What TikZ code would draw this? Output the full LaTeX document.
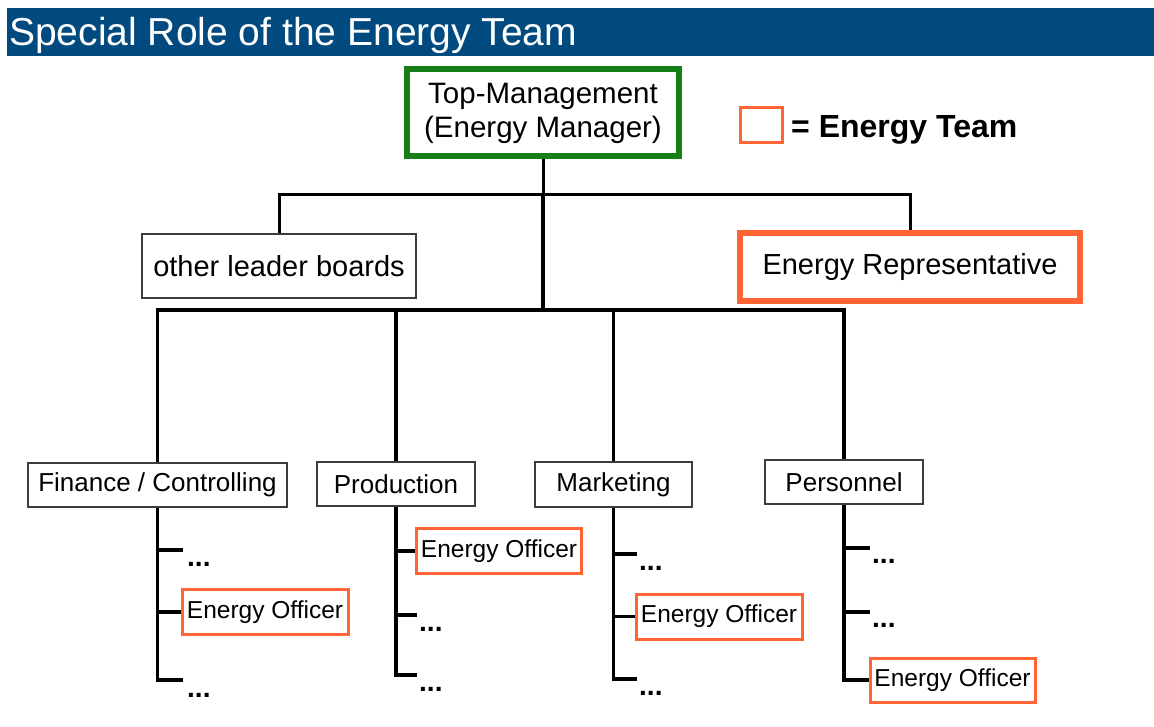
\documentclass[tikz,border=0pt]{standalone}
\usepackage{fontspec}
\setmainfont{Liberation Sans}
\definecolor{hdr}{RGB}{0,74,127}
\definecolor{tmgreen}{RGB}{22,128,22}
\definecolor{eorange}{RGB}{255,100,50}
\definecolor{boxgray}{RGB}{60,60,60}
\tikzset{
  conn/.style={line width=3.5pt, black},
  tconn/.style={line width=3pt, black},
  plainbox/.style={draw=boxgray, line width=1.5pt, inner sep=0pt, fill=white},
  teambox/.style={draw=eorange, line width=3pt, inner sep=0pt, fill=white},
  bigteam/.style={draw=eorange, line width=6pt, inner sep=0pt, fill=white},
  eobox/.style={teambox, font=\fontsize{24.5}{24.5}\selectfont},
  deptbox/.style={plainbox, font=\fontsize{26}{26}\selectfont},
  dots/.style={font=\fontsize{28}{28}\selectfont\bfseries, inner sep=0pt, anchor=base west},
}
\begin{document}
\begin{tikzpicture}[x=1pt,y=-1pt]
\useasboundingbox (0,0) rectangle (1154,727);
% header
\fill[hdr] (7,8) rectangle (1154,56);
\node[anchor=base west, text=white, inner sep=0pt, font=\fontsize{39}{39}\selectfont] (title) at (9,46) {Special Role of the Energy Team};

% junctions
\coordinate (j1) at (543,195);
\coordinate (j2) at (543,310);

% connectors (drawn first)
\draw[tconn] (543,155) -- (j1);
\draw[conn] (j1) -- (j2);

% top management
\node[draw=tmgreen, line width=6pt, fill=white, minimum width=272pt, minimum height=87pt, inner sep=0pt, align=center, font=\fontsize{29.5}{34}\selectfont] (tm) at (543,113) {Top-Management\\(Energy Manager)};

% legend
\node[teambox, minimum width=42pt, minimum height=35pt] (leg) at (761,125.5) {};
\node[anchor=base west, inner sep=0pt, font=\fontsize{32}{32}\selectfont\bfseries] (legt) at (791,138) {= Energy Team};

% second level
\node[plainbox, minimum width=274pt, minimum height=64pt, font=\fontsize{29}{29}\selectfont] (olb) at (279,266) {other leader boards};
\node[bigteam, minimum width=340pt, minimum height=68pt, font=\fontsize{29}{29}\selectfont] (er) at (910,267) {Energy Representative};
\draw[tconn] (olb.north) |- (j1) -| (er.north);

% departments
\node[deptbox, minimum width=259pt, minimum height=44pt] (fin) at (157.5,485) {Finance / Controlling};
\node[deptbox, minimum width=158pt, minimum height=44pt] (prod) at (396,484) {Production};
\node[deptbox, minimum width=157pt, minimum height=45pt] (mkt) at (613.5,484.5) {Marketing};
\node[deptbox, minimum width=158pt, minimum height=44pt] (per) at (844,482) {Personnel};

\draw[conn] (fin.north) |- (j2) -| (per.north);
\draw[conn] (prod.north) -- (prod.north |- j2);
\draw[conn] (mkt.north) -- (mkt.north |- j2);

% Finance subtree
\node[eobox, minimum width=166pt, minimum height=45pt] (eof) at (265,612) {Energy Officer};
\coordinate (f1) at (183,550);
\coordinate (f3) at (183,680);
\draw[conn] (fin.south) -- (fin.south |- f3) -- (f3);
\draw[conn] (fin.south |- f1) -- (f1);
\draw[conn] (fin.south |- eof.west) -- (eof.west);
\node[dots] (fd1) at (187,566) {...};
\node[dots] (fd3) at (187,697) {...};

% Production subtree
\node[eobox, minimum width=165pt, minimum height=45pt] (eop) at (499,551) {Energy Officer};
\coordinate (p2) at (417,615);
\coordinate (p3) at (417,675);
\draw[conn] (prod.south) -- (prod.south |- p3) -- (p3);
\draw[conn] (prod.south |- p2) -- (p2);
\draw[conn] (prod.south |- eop.west) -- (eop.west);
\node[dots] (pd2) at (419,631) {...};
\node[dots] (pd3) at (419,691) {...};

% Marketing subtree
\node[eobox, minimum width=166pt, minimum height=45pt] (eom) at (719,616.5) {Energy Officer};
\coordinate (m1) at (637,554);
\coordinate (m3) at (637,679);
\draw[conn] (mkt.south) -- (mkt.south |- m3) -- (m3);
\draw[conn] (mkt.south |- m1) -- (m1);
\draw[conn] (mkt.south |- eom.west) -- (eom.west);
\node[dots] (md1) at (639,570) {...};
\node[dots] (md3) at (639,695) {...};

% Personnel subtree
\node[eobox, minimum width=165pt, minimum height=44pt] (eope) at (952.5,680) {Energy Officer};
\coordinate (q1) at (870,548);
\coordinate (q2) at (870,612);
\draw[conn] (per.south) -- (per.south |- eope.west) -- (eope.west);
\draw[conn] (per.south |- q1) -- (q1);
\draw[conn] (per.south |- q2) -- (q2);
\node[dots] (qd1) at (872,563) {...};
\node[dots] (qd2) at (872,627) {...};
\end{tikzpicture}
\end{document}
